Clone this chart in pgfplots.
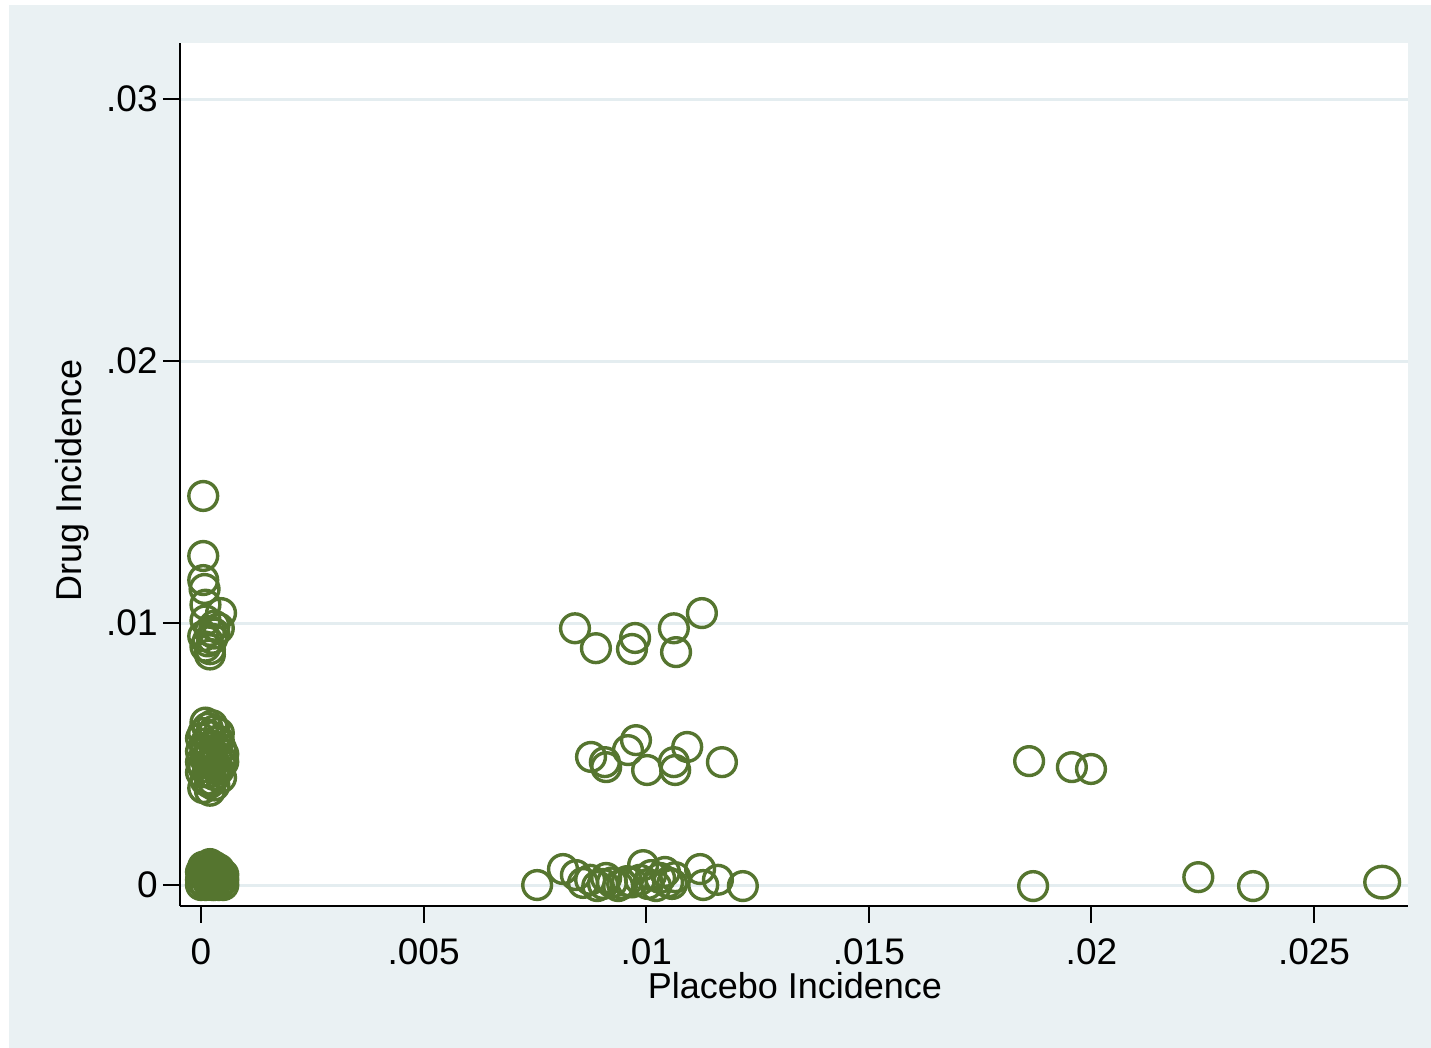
\documentclass[border=0pt]{standalone}
\usepackage{pgfplots}
\pgfplotsset{compat=1.18}
\usepackage{fontspec}
\setmainfont{Liberation Sans}
\definecolor{bgblue}{HTML}{EAF1F3}
\definecolor{gridc}{HTML}{E4EDF0}
\definecolor{mkgreen}{HTML}{55752F}
\begin{document}
\begin{tikzpicture}
\fill[white] (0,0) rectangle (715.5pt,524pt);
\fill[bgblue] (4.5pt,0) rectangle (715.5pt,521.5pt);
\begin{axis}[
  at={(90pt,71pt)}, anchor=south west,
  scale only axis, width=614pt, height=431.5pt,
  xmin=-0.000472, xmax=0.02711,
  ymin=-0.0008, ymax=0.03214,
  axis background/.style={fill=white},
  axis lines*=left,
  axis line style={line width=1.3pt, black, -},
  tick align=outside,
  xtick={0,0.005,0.01,0.015,0.02,0.025},
  xticklabels={0,.005,.01,.015,.02,.025},
  ytick={0,0.01,0.02,0.03},
  yticklabels={0,.01,.02,.03},
  scaled ticks=false,
  /pgf/number format/assume math mode=true,
  major tick length=8.5pt,
  every tick/.style={black, line width=1pt},
  ymajorgrids=true,
  xmajorgrids=false,
  grid style={gridc, line width=1.5pt},
  xticklabel style={font=\fontsize{18.5}{21}\selectfont, inner sep=0pt, anchor=north, yshift=-7.5pt},
  yticklabel style={font=\fontsize{18.5}{21}\selectfont, inner sep=0pt, anchor=east, xshift=-2.5pt},
  xlabel={Placebo Incidence},
  ylabel={Drug Incidence},
  label style={font=\fontsize{18}{21}\selectfont, inner sep=0pt},
  xlabel style={at={(axis description cs:0.5008,-0.0765)}, anchor=north},
  ylabel style={at={(axis description cs:-0.1018,0.4936)}, anchor=north, rotate=0},
  clip=false,
]
\addplot[only marks, mark=o, mark size=7.2pt, color=mkgreen, mark options={line width=1.7pt}] coordinates {
% near zero, upper group
(0.00005,0.01485) (0.00005,0.01256) (0.00005,0.01164) (0.00008,0.0113) (0.0001,0.0107)
(0.00045,0.01038) (0.0001,0.0101) (0.0003,0.0099) (0.0002,0.0097) (0.0004,0.0098)
(0.00005,0.0095) (0.00015,0.0093) (0.0003,0.0096) (0.0001,0.0091) (0.0002,0.0090)
(0.00025,0.0094) (0.0002,0.0088)
% near zero, middle group
(0.0001,0.0062) (0.00015,0.0060) (0.0003,0.0059) (0.00005,0.0058) (0.0002,0.0057)
(0.0004,0.0055) (0.0001,0.0054) (0.0003,0.0053) (0.00045,0.0052) (0.0000,0.0051)
(0.0002,0.0050) (0.00035,0.0049) (0.0001,0.0048) (0.0005,0.0047) (0.00025,0.0046)
(0.00005,0.0045) (0.0004,0.0044) (0.00015,0.0043) (0.0003,0.0042) (0.0001,0.0040)
(0.0002,0.0039) (0.00005,0.0037) (0.0003,0.0038) (0.00045,0.0046) (0.0002,0.0053)
(0.0000,0.0056) (0.00025,0.0061) (0.0004,0.0058) (0.0005,0.0050) (0.00035,0.0045)
(0.0000,0.0043) (0.0002,0.0043) (0.00015,0.0049) (0.0003,0.0047) (0.0001,0.0051)
(0.00045,0.0041) (0.0002,0.0036) (0.00035,0.0055) (0.0000,0.0047) (0.00025,0.0040)
% near zero, bottom group
(0.00005,0.0007) (0.0002,0.0008) (0.00015,0.0006) (0.0003,0.0005) (0.0001,0.0004)
(0.00045,0.0003) (0.0,0.0002) (0.0002,0.0001) (0.0004,0.0) (0.0001,0.0)
(0.00025,0.00025) (0.0005,0.0002) (0.00035,0.0004) (0.00005,0.0001) (0.0003,0.0)
(0.0002,0.0005) (0.00015,0.0002) (0.0004,0.0006) (0.00005,0.0005) (0.0003,0.0007)
(0.00045,0.0001) (0.0001,0.0003) (0.0,0.0) (0.0,0.0005) (0.00025,0.0) (0.0005,0.0)
(0.0005,0.0004) (0.00035,0.0002) (0.0001,0.0007) (0.00025,0.0006) (0.00015,0.00015)
% around .01, upper
(0.0084,0.0098) (0.00887,0.00904) (0.00975,0.00943) (0.00968,0.00901)
(0.01062,0.0098) (0.01067,0.00889) (0.01125,0.01038)
% around .01, middle
(0.00876,0.00489) (0.00907,0.00469) (0.0091,0.0045) (0.00959,0.00515) (0.00977,0.00553)
(0.01002,0.00439) (0.01062,0.00469) (0.01065,0.00439) (0.01092,0.00527) (0.0117,0.00469)
% around .01, bottom
(0.00755,0.0) (0.00813,0.00061) (0.00842,0.00038) (0.00858,0.00008) (0.00874,0.0002)
(0.0089,-0.00004) (0.00903,0.00004) (0.0091,0.00027) (0.00923,0.0001) (0.00937,-0.00004)
(0.00946,0.00004) (0.00957,0.00015) (0.00968,0.0001) (0.00986,0.0002) (0.00993,0.00076)
(0.01004,0.00004) (0.01011,0.00038) (0.01022,-0.00004) (0.01031,0.00027) (0.01042,0.0005)
(0.01049,0.0001) (0.01058,0.00004) (0.01065,0.0003) (0.01121,0.00061) (0.01128,0.0)
(0.01161,0.0002) (0.01217,-0.00004)
% right side
(0.0186,0.00473) (0.01956,0.0045) (0.01999,0.00443)
(0.01869,-0.00004) (0.0224,0.0003) (0.02363,-0.00004)
};
\addplot[only marks, mark=o, mark size=7.9pt, color=mkgreen, mark options={line width=1.7pt, xscale=1.1}] coordinates {
(0.02653,0.00011)
};
\end{axis}
\end{tikzpicture}
\end{document}
